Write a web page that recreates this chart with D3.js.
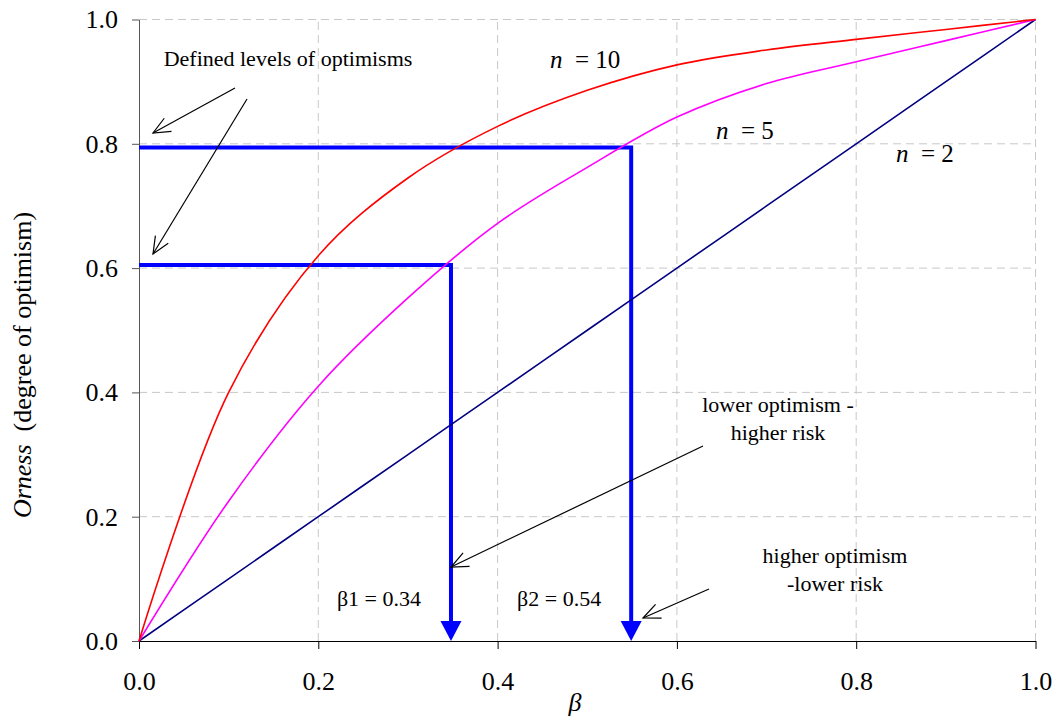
<!DOCTYPE html>
<html>
<head>
<meta charset="utf-8">
<script src="https://cdn.jsdelivr.net/npm/d3@7"></script>
<style>
  body { margin: 0; background: #fff; }
  svg text { font-family: "Liberation Serif", "Times New Roman", Tinos, "DejaVu Serif", "Noto Serif", serif; fill: #000; }
</style>
</head>
<body>
<svg width="1057" height="722"></svg>
<script>
// values
var betas   = [0, 0.1, 0.2, 0.3, 0.4, 0.5, 0.6, 0.7, 0.8, 0.9, 1.0];
var orness10 = [0, 0.40, 0.62, 0.745, 0.828, 0.886, 0.927, 0.951, 0.968, 0.984, 1.0];
var orness5  = [0, 0.225, 0.41, 0.552, 0.672, 0.762, 0.843, 0.897, 0.932, 0.966, 1.0];
var orness2  = [0, 0.1, 0.2, 0.3, 0.4, 0.5, 0.6, 0.7, 0.8, 0.9, 1.0];
var tickValues = [0, 0.2, 0.4, 0.6, 0.8, 1.0];
var levels = [0.605, 0.794];        // defined levels of optimism
var betaCuts = [0.348, 0.549];      // where the levels meet n = 5
var betaLabels = ["\u03b21 = 0.34", "\u03b22 = 0.54"];

var serif = '"Liberation Serif", "Times New Roman", Tinos, "DejaVu Serif", serif';
var svg = d3.select("svg");
var x = d3.scaleLinear().domain([0, 1]).range([139, 1035.5]);
var y = d3.scaleLinear().domain([0, 1]).range([641, 19.5]);

// grid
var grid = svg.append("g").attr("stroke", "#c8c8c8").attr("stroke-width", 1)
    .attr("stroke-dasharray", "8,5");
tickValues.slice(1).forEach(function(t) {
  grid.append("line").attr("x1", x(0)).attr("x2", x(1)).attr("y1", y(t)).attr("y2", y(t));
  grid.append("line").attr("x1", x(t)).attr("x2", x(t)).attr("y1", y(0)).attr("y2", y(1));
});

// axes
var yAxis = svg.append("g").attr("transform", "translate(" + x(0) + ",0)")
    .call(d3.axisLeft(y).tickValues(tickValues).tickFormat(d3.format(".1f")).tickSize(7).tickPadding(14).tickSizeOuter(0));
var xAxis = svg.append("g").attr("transform", "translate(0," + y(0) + ")")
    .call(d3.axisBottom(x).tickValues(tickValues).tickFormat(d3.format(".1f")).tickSize(8).tickPadding(23).tickSizeOuter(0));
svg.selectAll("g").attr("font-family", serif);
svg.selectAll(".tick text").style("font-family", serif).style("font-size", "26px");
yAxis.selectAll("path, line").attr("stroke", "#555");
xAxis.selectAll("path, line").attr("stroke", "#000");

// blue levels and arrows
var blue = svg.append("g");
levels.forEach(function(lv, i) {
  var bx = x(betaCuts[i]);
  blue.append("path")
      .attr("d", "M" + x(0) + "," + y(lv) + "H" + bx + "V" + (y(0) - 19))
      .attr("fill", "none").attr("stroke", "#0000ff").attr("stroke-width", 4);
  blue.append("path")
      .attr("d", "M" + (bx - 10.5) + "," + (y(0) - 20) + "L" + (bx + 10.5) + "," + (y(0) - 20) + "L" + bx + "," + y(0) + "Z")
      .attr("fill", "#0000ff");
  svg.append("text").attr("x", x(betaCuts[i]) - 72).attr("y", 606)
      .attr("text-anchor", "middle").style("font-size", "22px").text(betaLabels[i]);
});

// curves
var line = function(vals) {
  return d3.line().x(function(d, i) { return x(betas[i]); }).y(function(d) { return y(d); })
      .curve(d3.curveCatmullRom.alpha(0.5))(vals);
};
svg.append("path").attr("d", line(orness2)).attr("fill", "none").attr("stroke", "#000080").attr("stroke-width", 1.6);
svg.append("path").attr("d", line(orness5)).attr("fill", "none").attr("stroke", "#ff00ff").attr("stroke-width", 1.6);
svg.append("path").attr("d", line(orness10)).attr("fill", "none").attr("stroke", "#ff0000").attr("stroke-width", 1.6);

// n labels
function nLabel(tx, ty, rest) {
  var t = svg.append("text").attr("x", tx).attr("y", ty).style("font-size", "25px").style("white-space", "pre");
  t.append("tspan").style("font-style", "italic").text("n");
  t.append("tspan").text("  = " + rest);
}
nLabel(550, 68, "10");
nLabel(716, 139, "5");
nLabel(896, 162, "2");

// annotation arrows
svg.append("defs").append("marker")
    .attr("id", "open").attr("markerUnits", "userSpaceOnUse")
    .attr("viewBox", "-18 -9 20 18").attr("refX", 0).attr("refY", 0)
    .attr("markerWidth", 20).attr("markerHeight", 18).attr("orient", "auto")
  .append("path").attr("d", "M-17,-7.5L0,0L-17,7.5")
    .attr("fill", "none").attr("stroke", "#000").attr("stroke-width", 1.2);

var arrows = [[235, 88, 153, 133], [247, 99, 153, 254], [703, 446, 451, 567], [709, 589, 643, 618]];
arrows.forEach(function(a) {
  svg.append("line").attr("x1", a[0]).attr("y1", a[1]).attr("x2", a[2]).attr("y2", a[3])
      .attr("stroke", "#000").attr("stroke-width", 1.2).attr("marker-end", "url(#open)");
});

// notes
function note(tx, ty, lines) {
  lines.forEach(function(s, i) {
    svg.append("text").attr("x", tx).attr("y", ty + i * 27.5)
        .attr("text-anchor", "middle").style("font-size", "22px").text(s);
  });
}
note(288, 66, ["Defined levels of optimisms"]);
note(778, 412, ["lower optimism -", "higher risk"]);
note(835, 563, ["higher optimism", "-lower risk"]);

// axis titles
svg.append("text").attr("x", 575).attr("y", 711).attr("text-anchor", "middle")
    .style("font-size", "26px").style("font-style", "italic").text("\u03b2");
var yt = svg.append("text").attr("transform", "translate(31,365) rotate(-90)")
    .attr("text-anchor", "middle").style("font-size", "26px").style("white-space", "pre");
yt.append("tspan").style("font-style", "italic").text("Orness");
yt.append("tspan").text("  (degree of optimism)");
</script>
</body>
</html>
